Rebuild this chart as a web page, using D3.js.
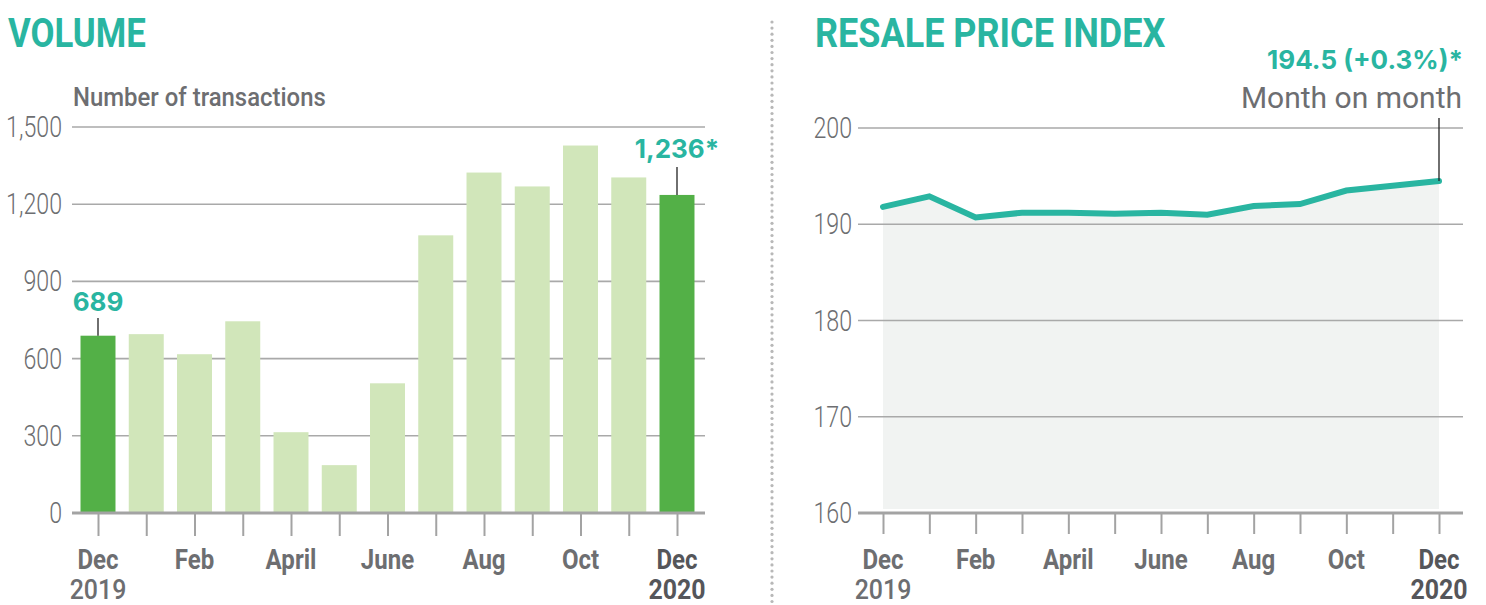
<!DOCTYPE html>
<html>
<head>
<meta charset="utf-8">
<script src="https://cdn.jsdelivr.net/npm/d3@7"></script>
<style>
  html, body { margin: 0; padding: 0; background: #ffffff; }
  svg { display: block; }
</style>
</head>
<body>
<svg id="chart" width="1486" height="605"></svg>
<script>
// ---------- data ----------
const months = ["Dec 2019","Jan","Feb","Mar","Apr","May","Jun","Jul","Aug","Sep","Oct","Nov","Dec 2020"];
const tickLabels = ["Dec","","Feb","","April","","June","","Aug","","Oct","","Dec"];
const yearLabels = ["2019","","","","","","","","","","","","2020"];
const volume = [689, 695, 617, 745, 314, 186, 504, 1079, 1323, 1269, 1428, 1304, 1236];
const highlighted = ["Dec 2019", "Dec 2020"];
const volumeTicks = [0, 300, 600, 900, 1200, 1500];
const priceIndex = [191.8, 192.9, 190.7, 191.2, 191.2, 191.1, 191.2, 191.0, 191.9, 192.1, 193.5, 194.0, 194.5];
const priceTicks = [160, 170, 180, 190, 200];
const volumeTitle = "VOLUME";
const volumeSubtitle = "Number of transactions";
const priceTitle = "RESALE PRICE INDEX";
const firstVolumeNote = "689";
const lastVolumeNote = "1,236*";
const priceNote = "194.5 (+0.3%)*";
const priceNoteSub = "Month on month";

// ---------- style ----------
const TEAL = "#29b5a1";
const GREY_TXT = "#6d6e71";
const DARK_TXT = "#55565a";
const GRID = "#a9a9a9";
const AXIS = "#a3a3a3";
const BAR_LIGHT = "#d1e6ba";
const BAR_DARK = "#53b047";
const BODY = "Roboto, 'Liberation Sans', sans-serif";
const NUMFONT = "Inter, 'DejaVu Sans', sans-serif";

const svg = d3.select("#chart");

// text placed through a group so it can be horizontally condensed
function txt(parent, x, y, str, o) {
  const g = parent.append("g")
    .attr("transform", `translate(${x},${y}) scale(${o.sx || 1},1)`);
  g.append("text")
    .attr("text-anchor", o.anchor || "start")
    .attr("font-family", o.family || BODY)
    .attr("font-weight", o.weight || "normal")
    .attr("font-size", o.size)
    .attr("fill", o.fill || GREY_TXT)
    .text(str);
  return g;
}

function monthLabels(g, x, baseY) {
  months.forEach((m, i) => {
    const isLast = i === months.length - 1;
    if (tickLabels[i]) txt(g, x(m), baseY, tickLabels[i],
      { anchor: "middle", weight: "bold", size: 27, sx: 0.89, fill: isLast ? DARK_TXT : GREY_TXT });
    if (yearLabels[i]) txt(g, x(m), baseY + 30, yearLabels[i],
      { anchor: "middle", weight: isLast ? "bold" : 500, size: 28, sx: 0.89, fill: isLast ? DARK_TXT : GREY_TXT });
  });
}

function styleBottomAxis(g) {
  g.select(".domain").remove();
  g.selectAll(".tick line").attr("stroke", AXIS).attr("stroke-width", 2);
  g.selectAll(".tick text").remove();
}

function gridAndYLabels(g, y, ticks, x0, x1, labelX, fmt) {
  g.append("g").selectAll("line").data(ticks.slice(1)).join("line")
    .attr("x1", x0).attr("x2", x1)
    .attr("y1", d => y(d)).attr("y2", d => y(d))
    .attr("stroke", GRID).attr("stroke-width", 1.6);
  const lg = g.append("g");
  ticks.forEach(t => txt(lg, labelX, y(t) + 10, fmt(t),
    { anchor: "end", weight: 300, size: 29, sx: 0.8 }));
}

// ================= LEFT: VOLUME =================
{
  const g = svg.append("g");
  const x = d3.scalePoint().domain(months).range([98, 677]);
  const y = d3.scaleLinear().domain([0, 1500]).range([513, 127]);
  const barW = x.step() * 0.725;

  txt(g, 8, 47, volumeTitle, { weight: "bold", size: 40, sx: 0.87, fill: TEAL });
  txt(g, 73, 106, volumeSubtitle, { weight: 500, size: 26, sx: 0.92 });

  gridAndYLabels(g, y, volumeTicks, 72, 705, 62, d => d3.format(",")(d));

  g.append("g").selectAll("rect").data(months).join("rect")
    .attr("x", d => x(d) - barW / 2)
    .attr("width", barW)
    .attr("y", (d, i) => y(volume[i]))
    .attr("height", (d, i) => y(0) - y(volume[i]))
    .attr("fill", d => highlighted.includes(d) ? BAR_DARK : BAR_LIGHT);

  g.append("line").attr("x1", 72).attr("x2", 705).attr("y1", y(0)).attr("y2", y(0))
    .attr("stroke", AXIS).attr("stroke-width", 3);
  const ax = g.append("g").attr("transform", `translate(0,${y(0)})`)
    .call(d3.axisBottom(x).tickSize(23).tickFormat(""));
  styleBottomAxis(ax);
  monthLabels(g, x, 569);

  const first = months[0], last = months[months.length - 1];
  g.append("line").attr("x1", x(first)).attr("x2", x(first))
    .attr("y1", 318).attr("y2", y(volume[0]))
    .attr("stroke", "#222").attr("stroke-width", 1.3);
  txt(g, x(first), 311, firstVolumeNote,
    { anchor: "middle", family: NUMFONT, weight: "bold", size: 26, fill: TEAL });
  g.append("line").attr("x1", x(last)).attr("x2", x(last))
    .attr("y1", 167).attr("y2", y(volume[volume.length - 1]))
    .attr("stroke", "#222").attr("stroke-width", 1.3);
  txt(g, x(last), 158, lastVolumeNote,
    { anchor: "middle", family: NUMFONT, weight: "bold", size: 26, fill: TEAL });
}

// ================= divider =================
svg.append("g").selectAll("circle").data(d3.range(22, 602, 6.1)).join("circle")
  .attr("cx", 772).attr("cy", d => d).attr("r", 1.6).attr("fill", "#b8b8b8");

// ================= RIGHT: RESALE PRICE INDEX =================
{
  const g = svg.append("g");
  const x = d3.scalePoint().domain(months).range([883, 1439]);
  const y = d3.scaleLinear().domain([160, 200]).range([513, 128]);

  txt(g, 815, 47, priceTitle, { weight: "bold", size: 40, sx: 0.9, fill: TEAL });

  const area = d3.area().x((d, i) => x(months[i])).y0(y(160) - 4).y1(d => y(d));
  g.append("path").datum(priceIndex).attr("d", area).attr("fill", "#f1f3f2");

  gridAndYLabels(g, y, priceTicks, 858, 1463, 852, d => String(d));

  g.append("line").attr("x1", 858).attr("x2", 1463).attr("y1", y(160)).attr("y2", y(160))
    .attr("stroke", AXIS).attr("stroke-width", 3);
  const ax = g.append("g").attr("transform", `translate(0,${y(160)})`)
    .call(d3.axisBottom(x).tickSize(21).tickFormat(""));
  styleBottomAxis(ax);
  monthLabels(g, x, 569);

  const line = d3.line().x((d, i) => x(months[i])).y(d => y(d));
  g.append("path").datum(priceIndex).attr("d", line)
    .attr("fill", "none").attr("stroke", TEAL).attr("stroke-width", 6)
    .attr("stroke-linejoin", "miter").attr("stroke-linecap", "round");

  const last = months[months.length - 1];
  g.append("line").attr("x1", x(last)).attr("x2", x(last))
    .attr("y1", 118).attr("y2", y(priceIndex[priceIndex.length - 1]))
    .attr("stroke", "#222").attr("stroke-width", 1.3);
  txt(g, 1463, 69, priceNote,
    { anchor: "end", family: NUMFONT, weight: "bold", size: 26, sx: 1, fill: TEAL });
  txt(g, 1462, 108, priceNoteSub, { anchor: "end", size: 30, sx: 1 });
}
</script>
</body>
</html>
